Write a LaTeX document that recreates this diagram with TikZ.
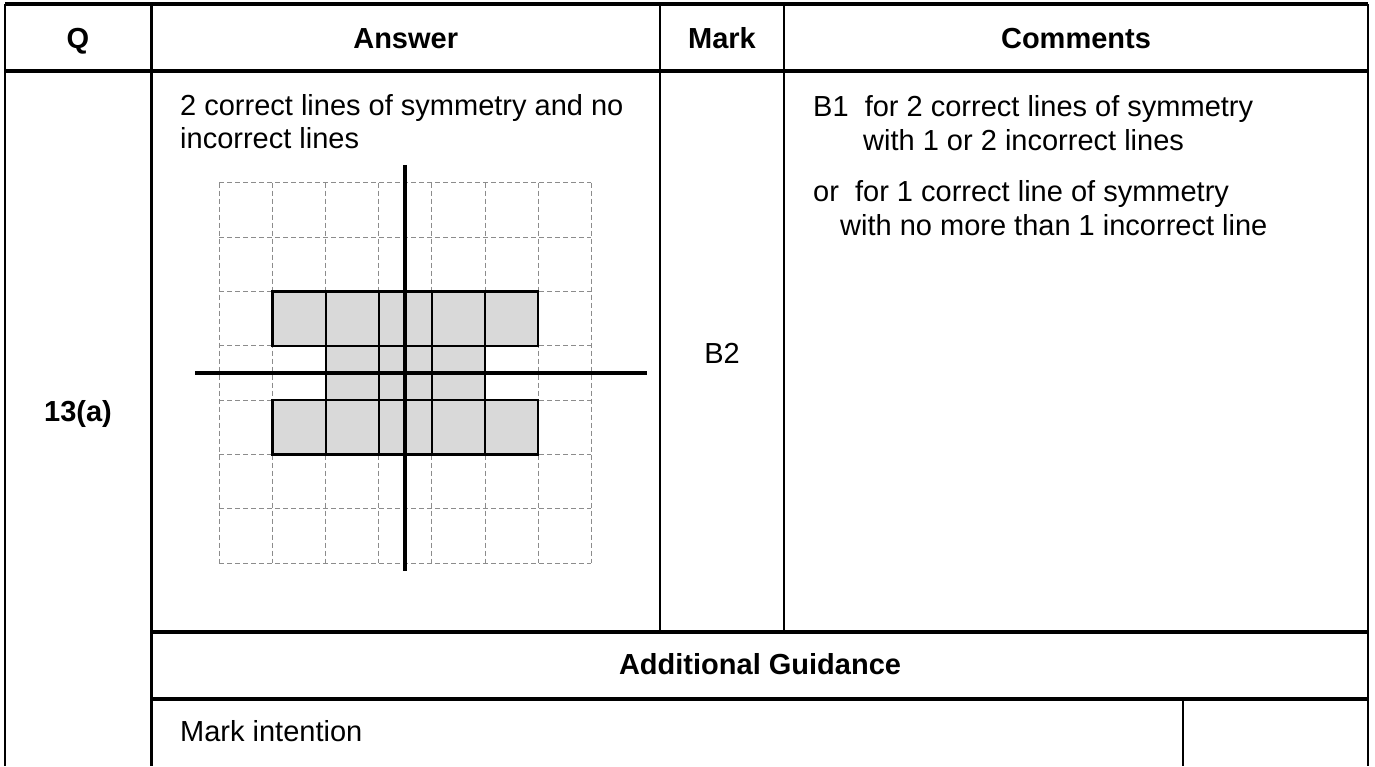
\documentclass[tikz,border=0pt]{standalone}
\usepackage{fontspec}
\setmainfont{Liberation Sans}
\begin{document}
\begin{tikzpicture}[x=1pt,y=-1pt,
  txt/.style={inner sep=0pt, text height=21pt, text depth=0pt, font=\fontsize{29}{33}\selectfont},
  hd/.style={txt, font=\fontsize{29}{33}\selectfont\bfseries},
  vrule/.style={line width=2.5pt},
  hrule/.style={line width=3.2pt},
  gridl/.style={black!45, line width=0.9pt, dash pattern=on 5pt off 3pt},
  cellbox/.style={draw=black, fill=black!15, line width=2.2pt},
  symline/.style={line width=3.8pt}]
\fill[white] (0,0) rectangle (1375,766);
\useasboundingbox (0,0) rectangle (1375,766);

% table rules
\draw[hrule] (5,4) -- (1368,4);
\draw[vrule] (5,4) -- (5,766);
\draw[vrule] (1368,4) -- (1368,766);
\draw[hrule] (5,71) -- (1368,71);
\draw[vrule] (151.5,4) -- (151.5,766);
\draw[vrule] (660,4) -- (660,632);
\draw[vrule] (784,4) -- (784,632);
\draw[hrule] (151.5,632) -- (1368,632);
\draw[hrule] (151.5,699) -- (1368,699);
\draw[vrule] (1183,699) -- (1183,766);

% grid diagram
\begin{scope}[shift={(219.3,182.7)}, x=53.15pt, y=-54.37pt]
  \foreach \i in {0,...,7} {
    \draw[gridl] (\i,0) -- (\i,7);
    \draw[gridl] (0,\i) -- (7,\i);
  }
  \foreach \c in {1,...,5} { \draw[cellbox] (\c,2) rectangle (\c+1,3); }
  \foreach \c in {2,...,4} { \draw[cellbox] (\c,3) rectangle (\c+1,4); }
  \foreach \c in {1,...,5} { \draw[cellbox] (\c,4) rectangle (\c+1,5); }
  \coordinate (vtop) at (3.5,-0.326);
  \coordinate (vbot) at (3.5,7.14);
  \coordinate (hlft) at (-0.457,3.5);
  \coordinate (hrgt) at (8.047,3.5);
  \draw[symline] (vtop) -- (vbot);
  \draw[symline] (hlft) -- (hrgt);
\end{scope}

% texts
\node[hd] (hQ) at (78,38) {Q};
\node[hd] (hA) at (405.7,38) {Answer};
\node[hd] (hM) at (722,38) {Mark};
\node[hd] (hC) at (1076,38) {Comments};
\node[hd] (q) at (78,411) {13(a)};
\node[txt,anchor=west] (a1) at (180,105) {2 correct lines of symmetry and no};
\node[txt,anchor=west] (a2) at (180,138) {incorrect lines};
\node[txt] (b2) at (722,353) {B2};
\node[txt,anchor=west] (c1) at (813,106) {B1\ \ for 2 correct lines of symmetry};
\node[txt,anchor=west] (c2) at (863,140) {with 1 or 2 incorrect lines};
\node[txt,anchor=west] (c3) at (813,191) {or\ \ for 1 correct line of symmetry};
\node[txt,anchor=west] (c4) at (840,225) {with no more than 1 incorrect line};
\node[hd] (ag) at (760,664) {Additional Guidance};
\node[txt,anchor=west] (mi) at (180,731) {Mark intention};
\end{tikzpicture}
\end{document}
